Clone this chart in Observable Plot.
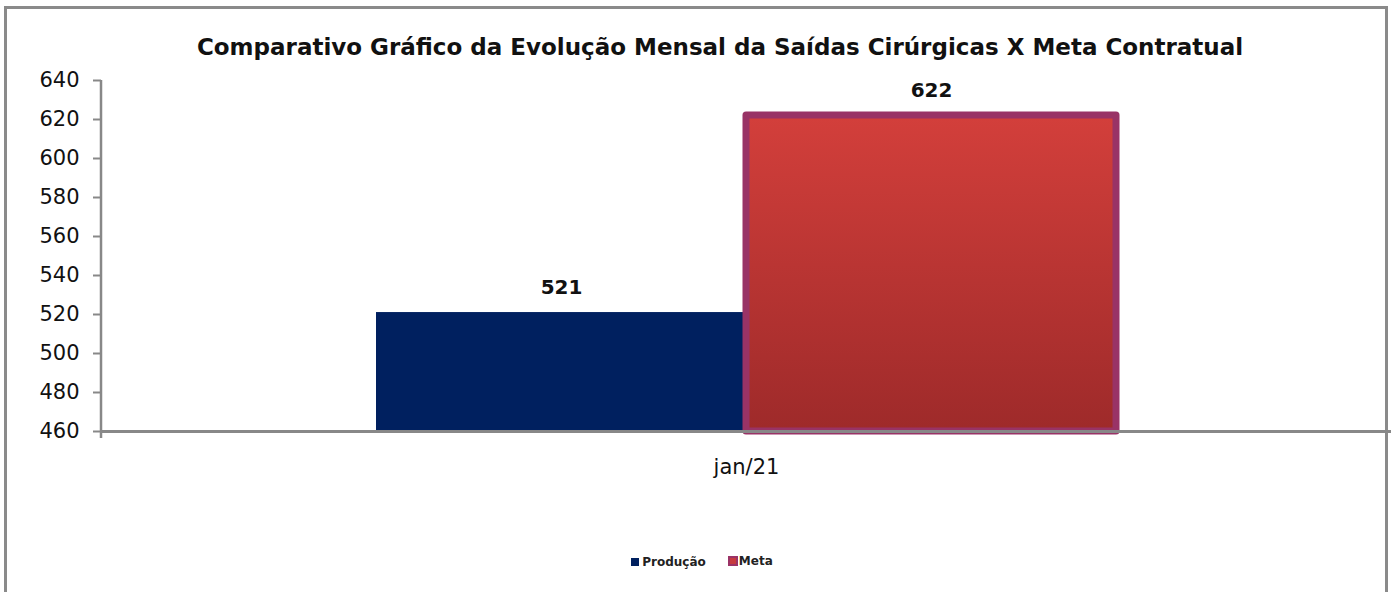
<!DOCTYPE html>
<html>
<head>
<meta charset="utf-8">
<script src="https://cdn.jsdelivr.net/npm/d3@7"></script>
<script src="https://cdn.jsdelivr.net/npm/@observablehq/plot@0.6"></script>
<style>
  html, body { margin: 0; padding: 0; background: #fff; }
  body { width: 1395px; height: 592px; position: relative; overflow: hidden; font-family: "DejaVu Sans", sans-serif; }
  #frame { position: absolute; left: 4px; top: 6px; width: 1384px; height: 620px; border: 3px solid #8a8a8a; box-sizing: border-box; }
  #title { position: absolute; left: 0; top: 34px; width: 1440px; text-align: center; font-weight: bold; font-size: 23px; color: #111; }
  #chart { position: absolute; left: 0; top: 50px; }
  #legend { position: absolute; left: 0; top: 554px; width: 1404px; text-align: center; font-size: 12px; font-weight: bold; color: #222; }
  #legend span.item { display: inline-flex; align-items: center; }
  #legend span.sw { display: inline-block; width: 8px; height: 8px; margin-right: 3px; box-sizing: border-box; }
</style>
</head>
<body>
<div id="frame"></div>
<div id="title">Comparativo Gráfico da Evolução Mensal da Saídas Cirúrgicas X Meta Contratual</div>
<div id="chart"></div>
<div id="legend"></div>
<script>
const months = ["jan/21"];
const series = ["Produção", "Meta"];
const producao = [521];
const meta = [622];
const yTicks = [460, 480, 500, 520, 540, 560, 580, 600, 620, 640];

const colors = { "Produção": "#00205f", "Meta": "url(#metaGrad)" };
const strokes = { "Produção": "none", "Meta": "#993366" };

const data = [];
months.forEach((m, i) => {
  data.push({ month: m, series: "Produção", value: producao[i] });
  data.push({ month: m, series: "Meta", value: meta[i] });
});

const defs = () => {
  const g = d3.create("svg:defs");
  const lg = g.append("linearGradient").attr("id", "metaGrad").attr("x1", 0).attr("y1", 0).attr("x2", 0).attr("y2", 1);
  lg.append("stop").attr("offset", "0%").attr("stop-color", "#d33f3b");
  lg.append("stop").attr("offset", "100%").attr("stop-color", "#9e2a2a");
  return g.node();
};

const yLine = (index, scales, values, dims) => {
  const x0 = dims.marginLeft;
  return d3.create("svg:line")
    .attr("x1", x0).attr("x2", x0)
    .attr("y1", scales.y(640)).attr("y2", scales.y(460) + 7)
    .attr("stroke", "#888").attr("stroke-width", 2.5).node();
};

const chart = Plot.plot({
  width: 1395,
  height: 440,
  marginLeft: 101,
  marginRight: 4,
  marginTop: 30,
  marginBottom: 59,
  style: { fontFamily: "DejaVu Sans, sans-serif", fontSize: "21px", color: "#111", background: "transparent" },
  fx: { domain: months, padding: 0, label: null },
  x: { domain: series, paddingInner: 0, paddingOuter: 0.743, axis: null },
  y: { domain: [460, 640], ticks: yTicks, label: null },
  marks: [
    defs,
    Plot.barY(data, {
      fx: "month", x: "series", y1: 460, y2: "value",
      fill: d => colors[d.series],
      stroke: d => strokes[d.series],
      strokeWidth: 7,
      strokeLinejoin: "round"
    }),
    Plot.text(data, {
      fx: "month", x: "series", y: "value",
      text: d => String(d.value),
      dy: -25,
      fontWeight: "bold", fontSize: 20, fill: "#111"
    }),
    Plot.axisY({ ticks: yTicks, tickSize: 8, tickPadding: 14, stroke: "#888", strokeWidth: 2, fontSize: 21, fill: "#111", label: null }),
    Plot.ruleY([460], { stroke: "#888", strokeWidth: 3 }),
    yLine,
    Plot.axisFx({ tickSize: 0, tickPadding: 0, fontSize: 21, fill: "#111", label: null, anchor: "bottom", dy: 28 })
  ]
});
document.getElementById("chart").appendChild(chart);

const legend = document.getElementById("legend");
legend.innerHTML =
  '<span class="item" style="margin-right:22px"><span class="sw" style="background:#00205f"></span>Produção</span>' +
  '<span class="item"><span class="sw" style="background:#c73a3e;border:2.5px solid #9b3366;width:10px;height:10px;margin-right:1px;"></span>Meta</span>';
</script>
</body>
</html>
